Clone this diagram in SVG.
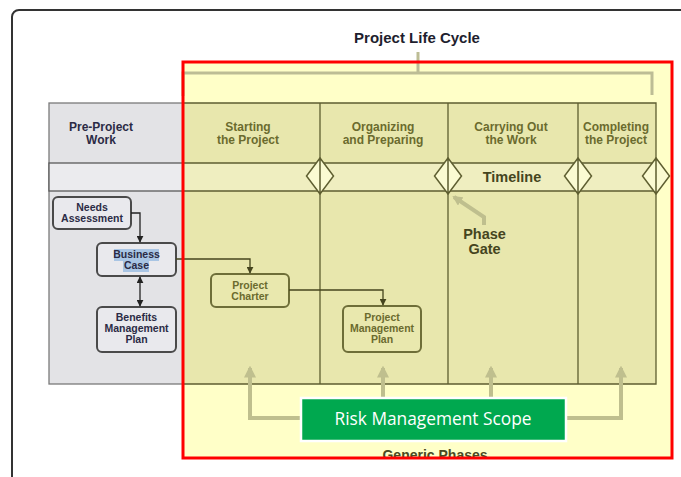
<svg xmlns="http://www.w3.org/2000/svg" width="681" height="477" viewBox="0 0 681 477">
<style>
.hdr{font-family:"Liberation Sans",Arial,sans-serif;font-weight:bold;font-size:12px;text-anchor:middle}
.ph{fill:#6B6B2E}
.pre{fill:#2B2B45}
.nt{font-family:"Liberation Sans",Arial,sans-serif;font-weight:bold;font-size:10.5px;text-anchor:middle}
.gnode{fill:#E9E9ED;stroke:#4A4A4A;stroke-width:2}
.ynode{fill:#E9E8AE;stroke:#6E6E38;stroke-width:2}
.grid{stroke:#5E5E30;stroke-width:1.3;fill:none}
.gate{fill:#FBFBD2;stroke:#5E5E30;stroke-width:1.5}
.dk{stroke:#222;stroke-width:1.3;fill:none}
.ol{stroke:#45451E;stroke-width:1.3;fill:none}
.gy{stroke:#BFBF8E;stroke-width:4;fill:none}
</style>
<defs>
<marker id="ak" viewBox="0 0 10 10" refX="9" refY="5" markerWidth="7" markerHeight="7" markerUnits="userSpaceOnUse" orient="auto-start-reverse"><path d="M0,0 L10,5 L0,10 z" fill="#222"/></marker>
<marker id="ao" viewBox="0 0 10 10" refX="9" refY="5" markerWidth="7" markerHeight="7" markerUnits="userSpaceOnUse" orient="auto"><path d="M0,0 L10,5 L0,10 z" fill="#45451E"/></marker>
<marker id="ag" viewBox="0 0 10 10" refX="8" refY="5" markerWidth="12" markerHeight="12" markerUnits="userSpaceOnUse" orient="auto"><path d="M0,0 L10,5 L0,10 z" fill="#BFBF8E"/></marker>
<marker id="ag2" viewBox="0 0 10 10" refX="8" refY="5" markerWidth="10" markerHeight="10" markerUnits="userSpaceOnUse" orient="auto"><path d="M0,0 L10,5 L0,10 z" fill="#BFBF8E"/></marker>
<clipPath id="inside"><rect x="183" y="62" width="489" height="395"/></clipPath>
</defs>
<rect width="681" height="477" fill="#fff"/>
<!-- outer frame -->
<rect x="12" y="10" width="700" height="500" rx="7" fill="none" stroke="#333" stroke-width="2"/>
<!-- lifecycle area -->
<rect x="183" y="62" width="489" height="396" fill="#FFFFC8"/>
<!-- pre-project area -->
<g id="pre-project">
<rect x="49" y="103" width="134" height="281" fill="#E3E3E6" stroke="#7A7A7A" stroke-width="1.3"/>
<rect x="49" y="163" width="134" height="28" fill="#EBEBEE" stroke="#5A5A5A" stroke-width="1.3"/>
<text class="hdr pre" x="101" y="131">Pre-Project</text>
<text class="hdr pre" x="101" y="144">Work</text>
</g>
<!-- phase grid -->
<g id="phases">
<rect x="183" y="103" width="473" height="281" fill="#E8E7AD"/>
<rect x="183" y="163" width="473" height="28" fill="#EFEEC0"/>
<path class="grid" d="M183,103 H656 V384 H183 M183,163 H656 M183,191 H656 M320,103 V384 M448,103 V384 M578,103 V384"/>
<text class="hdr ph" x="248" y="131">Starting</text>
<text class="hdr ph" x="248" y="144">the Project</text>
<text class="hdr ph" x="383" y="131">Organizing</text>
<text class="hdr ph" x="383" y="144">and Preparing</text>
<text class="hdr ph" x="511" y="131">Carrying Out</text>
<text class="hdr ph" x="511" y="144">the Work</text>
<text class="hdr ph" x="616" y="131">Completing</text>
<text class="hdr ph" x="616" y="144">the Project</text>
<text x="512" y="182" font-family="Liberation Sans, Arial, sans-serif" font-weight="bold" font-size="14.5" fill="#45451E" text-anchor="middle">Timeline</text>
</g>
<g id="gates">
<path class="gate" d="M320,158 L333.5,176 L320,194 L306.5,176 Z M320,158 V194"/>
<path class="gate" d="M448,158 L461.5,176 L448,194 L434.5,176 Z M448,158 V194"/>
<path class="gate" d="M578,158 L591.5,176 L578,194 L564.5,176 Z M578,158 V194"/>
<path class="gate" d="M656,158 L669.5,176 L656,194 L642.5,176 Z M656,158 V194"/>
</g>
<g id="phase-gate-label">
<text x="484.5" y="239" font-family="Liberation Sans, Arial, sans-serif" font-weight="bold" font-size="14.5" fill="#45451E" text-anchor="middle">Phase</text>
<text x="484.5" y="253.5" font-family="Liberation Sans, Arial, sans-serif" font-weight="bold" font-size="14.5" fill="#45451E" text-anchor="middle">Gate</text>
</g>
<!-- bracket -->
<g id="bracket">
<path d="M418,52 V73 M183,96 V73 H652 V95" stroke="#BDBD95" stroke-width="3" fill="none"/>
</g>
<text x="417" y="43" font-family="Liberation Sans, Arial, sans-serif" font-weight="bold" font-size="15" fill="#1E1E2E" text-anchor="middle">Project Life Cycle</text>
<!-- nodes -->
<g id="needs-assessment">
<rect class="gnode" x="53" y="197" width="78" height="32" rx="5"/>
<text class="nt pre" x="92" y="211">Needs</text>
<text class="nt pre" x="92" y="222">Assessment</text>
</g>
<g id="business-case">
<rect class="gnode" x="97" y="243" width="79" height="33" rx="5"/>
<rect x="114" y="249" width="45" height="12" fill="#A9C5E4"/>
<rect x="123" y="261" width="26" height="11" fill="#A9C5E4"/>
<text class="nt pre" x="136.5" y="258">Business</text>
<text class="nt pre" x="136.5" y="269">Case</text>
</g>
<g id="benefits-plan">
<rect class="gnode" x="97" y="307" width="79" height="45" rx="5"/>
<text class="nt pre" x="136.5" y="321">Benefits</text>
<text class="nt pre" x="136.5" y="332">Management</text>
<text class="nt pre" x="136.5" y="343">Plan</text>
</g>
<g id="project-charter">
<rect class="ynode" x="211" y="274" width="78" height="33" rx="5"/>
<text class="nt ph" x="250" y="289">Project</text>
<text class="nt ph" x="250" y="300">Charter</text>
</g>
<g id="pm-plan">
<rect class="ynode" x="343" y="306" width="78" height="46" rx="5"/>
<text class="nt ph" x="382" y="321">Project</text>
<text class="nt ph" x="382" y="332">Management</text>
<text class="nt ph" x="382" y="343">Plan</text>
</g>
<!-- connectors -->
<g id="connectors">
<path class="dk" d="M131,213 H140 V242" marker-end="url(#ak)"/>
<path class="dk" d="M140,277 V306" marker-start="url(#ak)" marker-end="url(#ak)"/>
<path class="ol" d="M176,259 H250 V273" marker-end="url(#ao)"/>
<path class="ol" d="M289,290 H383 V305" marker-end="url(#ao)"/>
<path class="gy" d="M484,225 V217 L454,197" marker-end="url(#ag2)" stroke-width="3"/>
<path class="gy" d="M301,418 H250 V368" marker-end="url(#ag)"/>
<path class="gy" d="M383,398 V368" marker-end="url(#ag)"/>
<path class="gy" d="M491,398 V368" marker-end="url(#ag)"/>
<path class="gy" d="M566,418 H621 V368" marker-end="url(#ag)"/>
</g>
<g id="risk-scope">
<rect x="301" y="398" width="265" height="43" fill="#00A84F" stroke="#fff" stroke-width="2.5"/>
<text x="433" y="425" font-family="Open Sans, Noto Sans, sans-serif" font-size="18" fill="#fff" text-anchor="middle" textLength="197" lengthAdjust="spacingAndGlyphs">Risk Management Scope</text>
</g>
<text x="435" y="459.5" clip-path="url(#inside)" font-family="Liberation Sans, Arial, sans-serif" font-weight="bold" font-size="14" fill="#4A4A22" text-anchor="middle">Generic Phases</text>
<!-- red boundary -->
<rect x="183" y="62" width="489" height="396" fill="none" stroke="#FF0000" stroke-width="3"/>
</svg>
